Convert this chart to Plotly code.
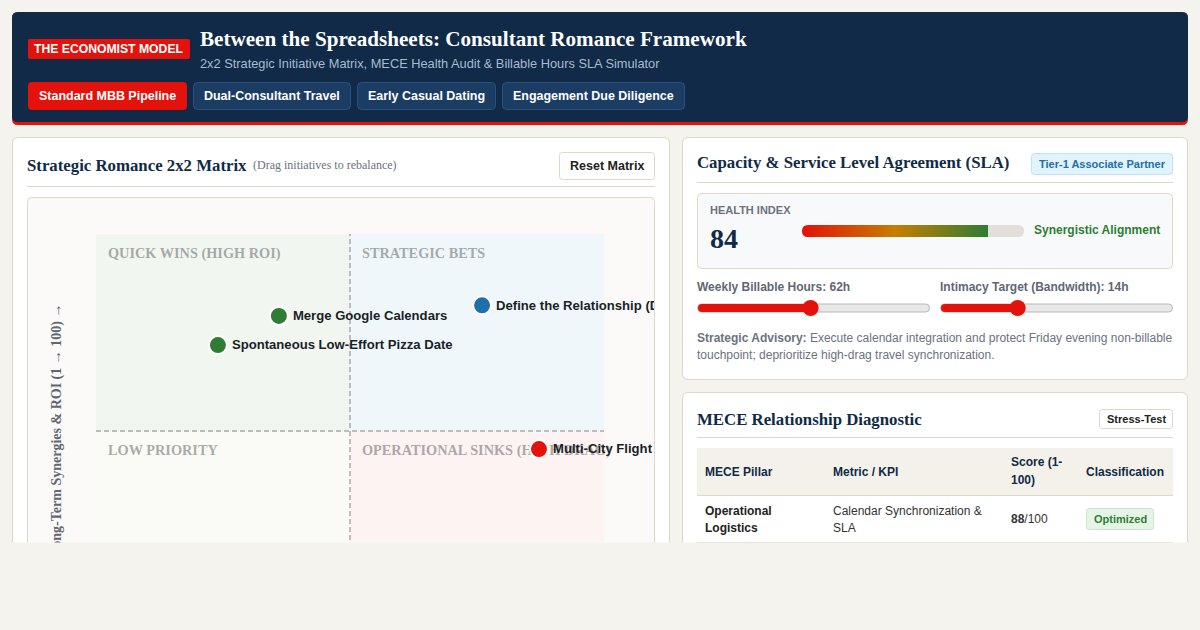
import numpy as np
import plotly.graph_objects as go

W = 1200
H = 630

# chart values
initiatives = ["Merge Google Calendars", "Define the Relationship (DTR)", "Spontaneous Low-Effort Pizza Date", "Multi-City Flight"]
effort = [36, 76, 24, 87.2]
synergy = [79.2, 81.9, 71.8, 45.4]
initiative_colors = ["#2e7d32", "#1f6fa8", "#2e7d32", "#e3120b"]
quadrants = ["QUICK WINS (HIGH ROI)", "STRATEGIC BETS", "LOW PRIORITY", "OPERATIONAL SINKS (HIGH DRAG)"]
tabs = ["Standard MBB Pipeline", "Dual-Consultant Travel", "Early Casual Dating", "Engagement Due Diligence"]
health_index = 84
billable_hours = 62
billable_range = [40, 85]
intimacy_hours = 14
intimacy_range = [4, 35]
table_header = ["MECE Pillar", "Metric / KPI", "Score (1-<br>100)", "Classification"]
row_pillar = ["Operational", "Logistics"]
row_metric = ["Calendar Synchronization &", "SLA"]
row_score = 88
row_class = "Optimized"

PAGE = "#f5f3ee"
NAVY = "#102a47"
RED = "#e3120b"
GREEN = "#2e7d32"
BORDER = "#ddd8c8"
GREY = "#5f6775"
SANS = "Liberation Sans"
SERIF = "Liberation Serif"

shapes = []
annotations = []


def px(x):
    return x / W


def py(y):
    return 1 - y / H


def rrect(x0, y0, x1, y1, r, fill, line=None, layer="below"):
    path = (f"M {px(x0 + r)} {py(y0)} L {px(x1 - r)} {py(y0)} Q {px(x1)} {py(y0)} {px(x1)} {py(y0 + r)} "
            f"L {px(x1)} {py(y1 - r)} Q {px(x1)} {py(y1)} {px(x1 - r)} {py(y1)} "
            f"L {px(x0 + r)} {py(y1)} Q {px(x0)} {py(y1)} {px(x0)} {py(y1 - r)} "
            f"L {px(x0)} {py(y0 + r)} Q {px(x0)} {py(y0)} {px(x0 + r)} {py(y0)} Z")
    shapes.append(dict(type="path", xref="paper", yref="paper", path=path, fillcolor=fill, layer=layer,
                       line=dict(color=line or fill, width=1 if line else 0)))


def hline(x0, x1, y, color=BORDER):
    shapes.append(dict(type="line", xref="paper", yref="paper", x0=px(x0), x1=px(x1), y0=py(y), y1=py(y),
                       line=dict(color=color, width=1), layer="below"))


def label(x, y, text, size=12, color="#222222", family=SANS, bold=False, anchor="left"):
    # left anchored annotations land a pixel to the right
    if anchor == "left":
        x = x - 1
    annotations.append(dict(xref="paper", yref="paper", x=px(x), y=py(y), xanchor=anchor, yanchor="middle",
                            text=f"<b>{text}</b>" if bold else text, showarrow=False, borderpad=0,
                            font=dict(size=size, color=color, family=family)))


# header band
rrect(12, 12, 1188, 125, 6, RED)
rrect(12, 12, 1188, 122, 6, NAVY)
rrect(28, 39, 190, 59, 2, RED)
label(109, 49, "THE ECONOMIST MODEL", 12.2, "white", bold=True, anchor="center")
label(200, 39, "Between the Spreadsheets: Consultant Romance Framework", 21.12, "white", SERIF, True)
label(200, 63.5, "2x2 Strategic Initiative Matrix, MECE Health Audit &amp; Billable Hours SLA Simulator", 12.8, "#a9bbd0")
tab_edges = [(28, 187), (193, 351), (357, 496), (502, 685)]
for i, (tab, edge) in enumerate(zip(tabs, tab_edges)):
    if i == 0:
        rrect(edge[0], 82, edge[1], 110, 4, RED)
    else:
        rrect(edge[0] + 0.5, 82.5, edge[1] - 0.5, 109.5, 4, "#1c3d63", "#2a5280")
    label((edge[0] + edge[1]) / 2, 96, tab, 12.48, "white", bold=True, anchor="center")

# left card
rrect(12.5, 137.5, 669.5, 600, 6, "white", BORDER)
label(27, 166, "Strategic Romance 2x2 Matrix", 16.8, NAVY, SERIF, True)
label(253, 165, "(Drag initiatives to rebalance)", 12, "#6b7280", SERIF)
rrect(559.5, 152.5, 654.5, 179.5, 3, "white", BORDER)
label(607, 166, "Reset Matrix", 12.5, "#222222", bold=True, anchor="center")
hline(27, 655, 186.5)
rrect(27.5, 197.5, 654.5, 600, 4, "#fbfaf8", BORDER)

# right card, SLA
rrect(682.5, 137.5, 1187.5, 379.5, 6, "white", BORDER)
label(697, 163, "Capacity &amp; Service Level Agreement (SLA)", 16.8, NAVY, SERIF, True)
rrect(1031.5, 153.5, 1172.5, 174.5, 3, "#e1f3fc", "#bde3f7")
label(1102, 164, "Tier-1 Associate Partner", 11, "#1f6fa8", bold=True, anchor="center")
hline(697, 1173, 182.5)
rrect(697.5, 193.5, 1172.5, 268.5, 4, "#f8f9fb", BORDER)
label(710, 210, "HEALTH INDEX", 11, "#6b7280", bold=True)
label(710, 238, str(health_index), 28, NAVY, SERIF, True)
label(1034, 230, "Synergistic Alignment", 12, GREEN, bold=True)
label(697, 287, f"Weekly Billable Hours: {billable_hours}h", 12, GREY, bold=True)
label(940, 287, f"Intimacy Target (Bandwidth): {intimacy_hours}h", 12, GREY, bold=True)
label(697, 338, "<b>Strategic Advisory:</b> Execute calendar integration and protect Friday evening non-billable", 12, "#6b7280")
label(697, 355, "touchpoint; deprioritize high-drag travel synchronization.", 12, "#6b7280")

# slider tracks, red start cap under the fill line
rrect(697.5, 304, 929.5, 312, 4, "#e8e8e8", "#b8b8b8")
rrect(940.5, 304, 1172.5, 312, 4, "#e8e8e8", "#b8b8b8")
rrect(698, 304, 712, 312, 4, RED)
rrect(941, 304, 955, 312, 4, RED)
# health bar track
rrect(802, 225, 1024, 237, 6, "#e2dfd8")

# right card, MECE table
rrect(682.5, 392.5, 1187.5, 600, 6, "white", BORDER)
label(697, 419, "MECE Relationship Diagnostic", 16.8, NAVY, SERIF, True)
rrect(1099.5, 409.5, 1172.5, 428.5, 3, "white", BORDER)
label(1136, 419, "Stress-Test", 11, "#222222", bold=True, anchor="center")
hline(697, 1173, 437.5)
shapes.append(dict(type="rect", xref="paper", yref="paper", x0=px(697), x1=px(1173), y0=py(448), y1=py(495),
                   fillcolor="#f3f1ea", line=dict(width=0), layer="below"))
hline(697, 1173, 495.5)
hline(697, 1173, 542.5)
col_x = [705, 832.5, 1011, 1086]
for x, head in zip(col_x, table_header):
    if "<br>" in head:
        a, b = head.split("<br>")
        label(x, 462.5, a, 12, NAVY, bold=True)
        label(x, 479.5, b, 12, NAVY, bold=True)
    else:
        label(x, 471.5, head, 12, NAVY, bold=True)
label(col_x[0], 510.5, row_pillar[0], 12, "#222222", bold=True)
label(col_x[0], 527.5, row_pillar[1], 12, "#222222", bold=True)
label(col_x[1], 510.5, row_metric[0].replace("&", "&amp;"), 12, "#333333")
label(col_x[1], 527.5, row_metric[1], 12, "#333333")
label(col_x[2], 518.5, f"<b>{row_score}</b>/100", 12, "#333333")
rrect(1086.5, 508.5, 1153.5, 529.5, 3, "#e6f4e8", "#c8e6c9")
label(1120, 519, row_class, 11, GREEN, bold=True, anchor="center")

# matrix axes run over the whole container so labels clip at its edge
x_scale = 5.08
y_scale = 3.94
x_range = [(28 - 96) / x_scale, (654 - 96) / x_scale]
y_range = [(628 - 543) / y_scale, (628 - 198) / y_scale]
quad_fill = ["#f1f6f1", "#eff7fb", "#fafaf7", "#fdf3f3"]
quad_box = [(0, 50, 50, 100), (50, 50, 100, 100), (0, 0, 50, 50), (50, 0, 100, 50)]
for fill, box in zip(quad_fill, quad_box):
    shapes.append(dict(type="rect", xref="x", yref="y", x0=box[0], y0=box[1], x1=box[2], y1=box[3],
                       fillcolor=fill, line=dict(width=0), layer="below"))
for line in [dict(x0=50, x1=50, y0=0, y1=100), dict(x0=0, x1=100, y0=50, y1=50)]:
    shapes.append(dict(type="line", xref="x", yref="y", line=dict(color="#bdbdbd", width=2, dash="5px,3px"), layer="below", **line))

fig = go.Figure()

quad_x = [2.36, 52.36, 2.36, 52.36]
quad_y = [94.7, 94.7, 44.7, 44.7]
fig.add_trace(go.Scatter(x=quad_x, y=quad_y, mode="text", text=quadrants, textposition="middle right",
                         textfont=dict(family=SERIF, size=14.3, color="rgba(90,90,90,0.5)", weight="bold"),
                         hoverinfo="skip", cliponaxis=True))
fig.add_trace(go.Scatter(x=effort, y=synergy, mode="markers", hoverinfo="skip",
                         marker=dict(size=18, color=initiative_colors, line=dict(color="white", width=2))))
# names sit 14px right of the dots
fig.add_trace(go.Scatter(x=[e + 14 / x_scale for e in effort], y=[s - 1 / y_scale for s in synergy], mode="text",
                         text=initiatives, textposition="middle right", hoverinfo="skip", cliponaxis=True,
                         textfont=dict(family=SANS, size=13.12, color="#1a1f26", weight="bold")))

# health bar, gradient up to the index value
edges = np.linspace(0, health_index, 121)
fig.add_trace(go.Heatmap(x=edges, y=[-0.5, 0.5], z=[(edges[:-1] + edges[1:]) / 2], xaxis="x2", yaxis="y2", showscale=False,
                         hoverinfo="skip", colorscale=[[0, RED], [0.5, "#c77d00"], [1, GREEN]], zmin=0, zmax=health_index))

# sliders
for value, rng, xa, ya in [(billable_hours, billable_range, "x3", "y3"), (intimacy_hours, intimacy_range, "x4", "y4")]:
    fig.add_trace(go.Scatter(x=[rng[0], value], y=[0, 0], mode="lines", xaxis=xa, yaxis=ya, hoverinfo="skip",
                             line=dict(color=RED, width=8)))
    fig.add_trace(go.Scatter(x=[value], y=[0], mode="markers", xaxis=xa, yaxis=ya, hoverinfo="skip",
                             marker=dict(color=RED, size=16)))

hidden = dict(visible=False, fixedrange=True)
fig.update_layout(
    width=W, height=H, showlegend=False, autosize=False,
    margin=dict(l=0, r=0, t=0, b=0), paper_bgcolor=PAGE, plot_bgcolor="rgba(0,0,0,0)",
    shapes=shapes, annotations=annotations,
    xaxis=dict(domain=[px(28), px(654)], range=x_range, **hidden),
    yaxis=dict(domain=[py(543), py(198)], range=y_range, **hidden),
    xaxis2=dict(domain=[px(802), px(1024)], range=[0, 100], anchor="y2", **hidden),
    yaxis2=dict(domain=[py(237), py(225)], range=[-0.5, 0.5], anchor="x2", **hidden),
    xaxis3=dict(domain=[px(705), px(921)], range=billable_range, anchor="y3", **hidden),
    yaxis3=dict(domain=[py(320), py(296)], range=[-1, 1], anchor="x3", **hidden),
    xaxis4=dict(domain=[px(948), px(1164)], range=intimacy_range, anchor="y4", **hidden),
    yaxis4=dict(domain=[py(320), py(296)], range=[-1, 1], anchor="x4", **hidden),
)

# page is cut off under the fold: y axis title first, then a band of page colour over it
fig.add_annotation(xref="paper", yref="paper", x=px(57), y=py(431), xanchor="center", yanchor="middle", textangle=-90,
                   showarrow=False, borderpad=0, text="<b>Long-Term Synergies &amp; ROI (1 → 100) →</b>",
                   font=dict(family=SERIF, size=14, color=GREY))
fig.add_annotation(xref="paper", yref="paper", x=0.5, y=py(586.5), xanchor="center", yanchor="middle", width=W, height=87,
                   text=" ", showarrow=False, bgcolor=PAGE, borderpad=0)

# rounded ends of the health bar
for y0, sy in [(225, 1), (237, -1)]:
    path = f"M {px(802)} {py(y0)} L {px(808)} {py(y0)} Q {px(802)} {py(y0)} {px(802)} {py(y0 + 6 * sy)} Z"
    fig.add_shape(type="path", xref="paper", yref="paper", path=path, fillcolor="#f8f9fb",
                  line=dict(width=0), layer="above")

fig.write_html("out.html", config={"displayModeBar": False},
               post_script="document.body.style.margin='0';document.body.style.background='#f5f3ee';document.body.style.overflow='hidden';")
